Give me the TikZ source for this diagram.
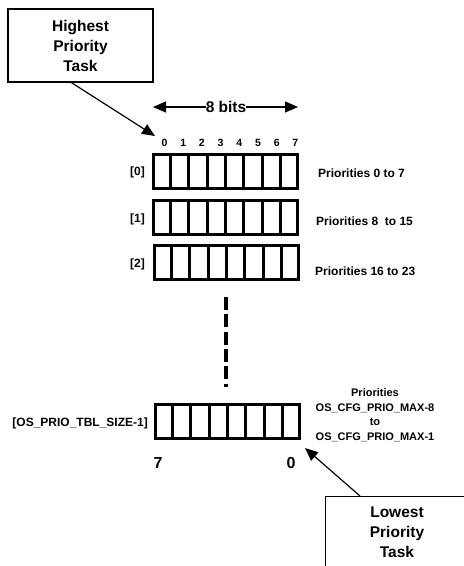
\documentclass[tikz,border=0pt]{standalone}
\usepackage{fontspec}
\setmainfont{Liberation Sans}
\usetikzlibrary{arrows.meta,calc}
\tikzset{
  txt/.style={inner sep=0pt, font=\bfseries\fontsize{12}{14.5}\selectfont, align=center},
  bitnum/.style={inner sep=0pt, font=\bfseries\fontsize{10.5}{12}\selectfont},
  callout/.style={draw, line width=1.2pt, inner sep=0pt, align=center,
    font=\bfseries\fontsize{15.5}{20}\selectfont},
  reg/.style={draw, line width=3pt, minimum width=144pt, minimum height=34pt, inner sep=0pt},
  tip/.style={line width=1.2pt, -{Triangle[length=13pt,width=11pt]}},
}
\begin{document}
\begin{tikzpicture}[x=1pt,y=-1pt]
\useasboundingbox (0,0) rectangle (464,566);
\clip (0,0) rectangle (464,566);
% callout boxes
\node[callout, minimum width=145pt, minimum height=73pt] (hbox) at (80.5,45.5) {Highest\\Priority\\Task};
\node[callout, minimum width=145pt, minimum height=90pt, anchor=north west] (lbox) at (325,496) {};
\node[txt, font=\bfseries\fontsize{15.5}{20}\selectfont] (ltext) at (397,532) {Lowest\\Priority\\Task};
% 8 bits
\node[txt, font=\bfseries\fontsize{15.5}{17}\selectfont, inner xsep=0pt] (bits) at (226,107) {8 bits};
\coordinate (bl) at (153,107);
\coordinate (br) at (298,107);
\draw[tip] (bits.west) -- (bl);
\draw[tip] (bits.east) -- (br);
% bit numbers
\foreach \i in {0,...,7} {
  \node[bitnum] (b\i) at ({164.5+18.7*\i},143) {\i};
}
% registers
\node[reg] (r0) at (225.5,171) {};
\node[reg] (r1) at (225.5,217) {};
\node[reg] (r2) at (226.5,262.5) {};
\node[reg] (rn) at (227.5,421.5) {};
\foreach \r in {r0,r1,r2,rn} {
  \foreach \i in {1,...,7} {
    \draw[line width=3pt] ($(\r.north west)!\i/8!(\r.north east)$) -- ($(\r.south west)!\i/8!(\r.south east)$);
  }
}
% row labels
\node[txt, anchor=east] (l0) at (145,172) {[0]};
\node[txt, anchor=east] (l1) at (145,219) {[1]};
\node[txt, anchor=east] (l2) at (145,264) {[2]};
\node[txt, anchor=east] (ln) at (148,423) {[OS\_PRIO\_TBL\_SIZE-1]};
% priorities labels
\node[txt, anchor=west] (p0) at (318,173) {Priorities 0 to 7};
\node[txt, anchor=west] (p1) at (316,221) {Priorities 8 \ to 15};
\node[txt, anchor=west] (p2) at (315,271) {Priorities 16 to 23};
\node[txt, font=\bfseries\fontsize{11}{14.5}\selectfont] (pn) at (375,415) {Priorities\\OS\_CFG\_PRIO\_MAX-8\\to\\OS\_CFG\_PRIO\_MAX-1};
% dashed continuation
\coordinate (dtop) at (226,297);
\coordinate (dbot) at (226,387);
\draw[line width=4pt, dash pattern=on 13pt off 4.3pt] (dtop) -- (dbot);
% bottom bit numbers
\node[txt, font=\bfseries\fontsize{16}{18}\selectfont] (n7) at (158,463) {7};
\node[txt, font=\bfseries\fontsize{16}{18}\selectfont] (n0) at (291,463) {0};
% pointer arrows
\coordinate (hend) at (155,136);
\coordinate (lend) at (305,448);
\draw[tip] ($(hbox.south west)+(64,0)$) -- (hend);
\draw[tip] ($(lbox.north west)+(35,0)$) -- (lend);
\end{tikzpicture}
\end{document}
